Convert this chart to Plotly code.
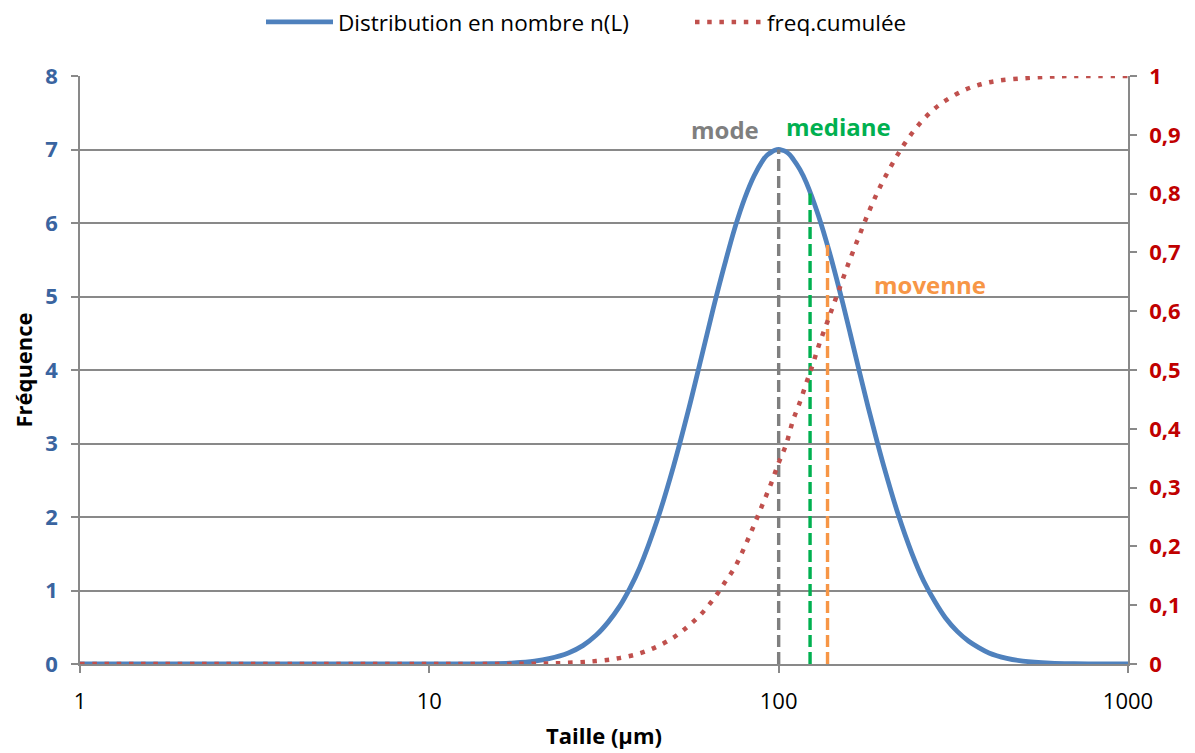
import math
import plotly.graph_objects as go

# Number distribution n(L)
size_n = [1, 5, 10, 15, 17.5, 20, 22, 25, 27.5, 30, 32.5, 35, 37.5, 40, 45, 50, 55, 60, 65,
          70, 75, 80, 85, 90, 92.5, 95, 97.5, 100, 102.5, 105, 107.5, 110, 115, 120, 130,
          140, 150, 160, 170, 180, 190, 200, 220, 240, 260, 280, 300, 325, 350, 375, 400,
          450, 500, 600, 700, 1000]
freq_n = [0, 0, 0.001, 0.005, 0.016, 0.04, 0.073, 0.15, 0.25, 0.39, 0.57, 0.78, 1.03,
          1.31, 1.97, 2.69, 3.43, 4.16, 4.84, 5.43, 5.94, 6.34, 6.64, 6.85, 6.92, 6.96,
          6.99, 7.0, 6.99, 6.97, 6.93, 6.87, 6.73, 6.55, 6.10, 5.59, 5.05, 4.51, 3.99,
          3.51, 3.08, 2.69, 2.03, 1.52, 1.13, 0.85, 0.63, 0.44, 0.31, 0.22, 0.15, 0.077,
          0.04, 0.012, 0.004, 0]

# Cumulative frequency
size_c = [1, 10, 20, 25, 30, 35, 40, 45, 50, 55, 60, 65, 70, 75, 80, 85, 90, 95, 100, 105,
          110, 115, 120, 125, 130, 140, 150, 160, 170, 180, 190, 200, 215, 230, 250, 275,
          300, 340, 380, 425, 500, 600, 700, 1000]
cum_c = [0, 0, 0.0005, 0.002, 0.005, 0.010, 0.018, 0.030, 0.045, 0.064, 0.085, 0.110,
         0.138, 0.165, 0.200, 0.236, 0.272, 0.306, 0.342, 0.373, 0.415, 0.445, 0.478,
         0.508, 0.540, 0.593, 0.642, 0.688, 0.728, 0.765, 0.797, 0.824, 0.858, 0.886,
         0.915, 0.941, 0.958, 0.976, 0.986, 0.992, 0.996, 0.999, 1.0, 1.0]

# Statistics (mode, median, mean) and heights of their markers
stat_names = ["mode", "mediane", "movenne"]
stat_x = [100, 123, 138]
stat_top = [7.0, 6.4, 5.7]
stat_colors = ["#7F7F7F", "#00B050", "#F79646"]

x_ticks = [1, 10, 100, 1000]
x_ticktext = ["1", "10", "100", "1000"]

AXIS_GRAY = "#898989"
FONT = "Open Sans"

fig = go.Figure()
fig.add_trace(go.Scatter(
    x=size_n, y=freq_n, name="Distribution en nombre n(L)", mode="lines",
    line=dict(color="#4F81BD", width=4.8, shape="spline", smoothing=1.0)))

for name, sx, top, col in zip(stat_names, stat_x, stat_top, stat_colors):
    fig.add_trace(go.Scatter(
        x=[sx, sx], y=[0, top], mode="lines", showlegend=False, name=name,
        line=dict(color=col, width=3.4, dash="12px,5px")))

fig.add_trace(go.Scatter(
    x=size_c, y=cum_c, yaxis="y2", name="freq.cumulée", mode="lines",
    line=dict(color="#C0504D", width=4.5, dash="4.5px,7.7px", shape="spline", smoothing=1.0)))

# labels for statistics
label_pos = {"mode": (70.3, 7.27), "mediane": (148, 7.31), "movenne": (271, 5.17)}
for name, col in zip(stat_names, stat_colors):
    lx, ly = label_pos[name]
    fig.add_annotation(x=math.log10(lx), y=ly, xref="x", yref="y", text=name,
                       showarrow=False, font=dict(family=FONT, size=24, color=col, weight="bold"))

fig.update_layout(
    width=1195, height=753,
    margin=dict(l=72, r=75, t=68, b=97, autoexpand=False),
    paper_bgcolor="white", plot_bgcolor="white",
    separators=", ",
    font=dict(family=FONT, size=22, color="black"),
    showlegend=True,
    legend=dict(orientation="h", x=(253 - 72) / 1048, xanchor="left", xref="paper",
                y=0.981, yanchor="middle", yref="container",
                font=dict(family=FONT, size=22.5, color="black"), itemwidth=67,
                entrywidth=347, entrywidthmode="pixels", tracegroupgap=0),
    xaxis=dict(
        type="log", range=[0, 3], tickvals=x_ticks, ticktext=x_ticktext, automargin=False,
        showgrid=False, zeroline=False, showline=True, linecolor=AXIS_GRAY, linewidth=1.5,
        ticks="outside", ticklen=7, tickcolor=AXIS_GRAY, tickwidth=1.5, ticklabelstandoff=10,
        tickfont=dict(family=FONT, size=22, color="black"),
        title=dict(text="Taille (µm)", font=dict(family=FONT, size=22, color="black", weight="bold"),
                   standoff=14)),
    yaxis=dict(
        range=[0, 8], dtick=1, showgrid=True, gridcolor=AXIS_GRAY, gridwidth=1.5, automargin=False,
        zeroline=False, showline=True, linecolor=AXIS_GRAY, linewidth=1.5,
        ticks="outside", ticklen=7, tickcolor=AXIS_GRAY, tickwidth=1.5, ticklabelstandoff=9,
        tickfont=dict(family=FONT, size=22, color="#3A64A0", weight="bold"),
        title=dict(text="Fréquence", font=dict(family=FONT, size=22, color="black", weight="bold"),
                   standoff=10)),
    yaxis2=dict(
        overlaying="y", side="right", range=[0, 1], dtick=0.1, showgrid=False, automargin=False,
        zeroline=False, showline=True, linecolor=AXIS_GRAY, linewidth=1.5,
        ticks="outside", ticklen=7, tickcolor=AXIS_GRAY, tickwidth=1.5, ticklabelstandoff=8,
        tickfont=dict(family=FONT, size=22, color="#C00000", weight="bold")),
)

fig.write_html("out.html")
